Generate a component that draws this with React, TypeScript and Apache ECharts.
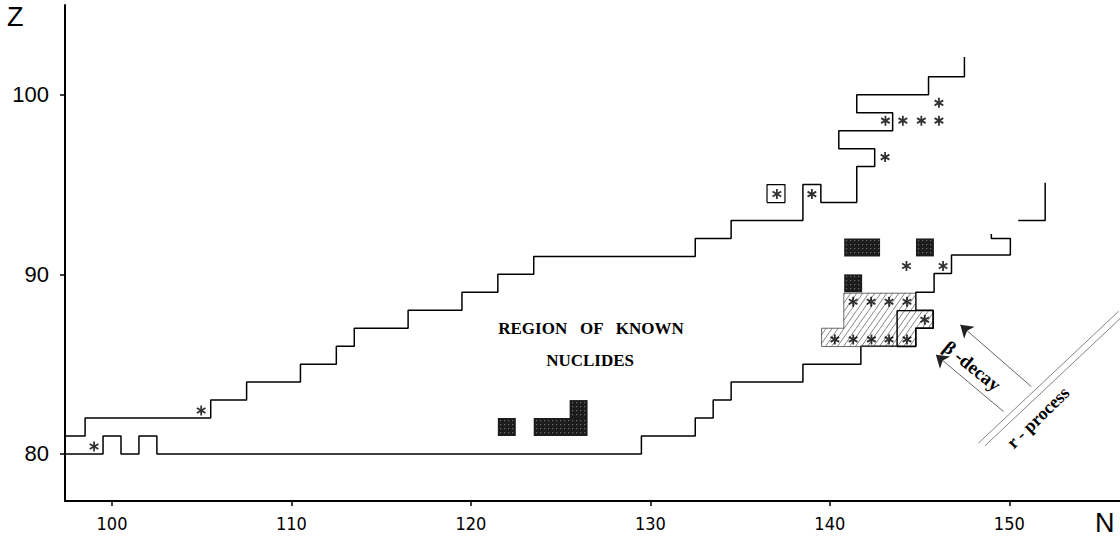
import React, { useEffect, useRef } from "react";
import * as echarts from "echarts";

// axis ranges and ticks
const nRange = [97.38, 156.17];
const zRange = [77.38, 105.0];
const nTicks = [100, 110, 120, 130, 140, 150];
const zTicks = [80, 90, 100];

// boundary of the region of known nuclides (N, Z)
const upperBoundary: [number, number][] = [
  [97.38, 81], [98.5, 81], [98.5, 82], [105.5, 82], [105.5, 83], [107.5, 83], [107.5, 84],
  [110.5, 84], [110.5, 85], [112.5, 85], [112.5, 86], [113.5, 86], [113.5, 87], [116.5, 87],
  [116.5, 88], [119.5, 88], [119.5, 89], [121.5, 89], [121.5, 90], [123.5, 90], [123.5, 91],
  [132.5, 91], [132.5, 92], [134.5, 92], [134.5, 93], [138.5, 93], [138.5, 95], [139.5, 95],
  [139.5, 94], [141.5, 94], [141.5, 96], [142.5, 96], [142.5, 97], [140.5, 97], [140.5, 98],
  [143.5, 98], [143.5, 99], [141.5, 99], [141.5, 100], [145.5, 100], [145.5, 101], [147.5, 101],
  [147.5, 102.1],
];
const lowerBoundary: [number, number][] = [
  [97.38, 80], [99.5, 80], [99.5, 81], [100.5, 81], [100.5, 80], [101.5, 80], [101.5, 81],
  [102.5, 81], [102.5, 80], [129.5, 80], [129.5, 81], [132.5, 81], [132.5, 82], [133.5, 82],
  [133.5, 83], [134.5, 83], [134.5, 84], [138.5, 84], [138.5, 85], [141.73, 85], [141.73, 86],
  [144.79, 86], [144.79, 87], [145.76, 87], [145.76, 88], [144.79, 88], [144.79, 89],
  [145.81, 89], [145.81, 90.05], [146.78, 90.05], [146.78, 91.08], [150.06, 91.08],
  [150.06, 92], [149.0, 92], [149.0, 92.25],
];
const extraBoundary: [number, number][] = [[150.5, 93], [152.0, 93], [152.0, 95.1]];
const boxedCell: [number, number][] = [[136.5, 94], [137.5, 94], [137.5, 95], [136.5, 95], [136.5, 94]];

// hatched regions [n1, n2, z1, z2]
const hatchRects: number[][] = [
  [140.78, 144.79, 87.98, 88.95],
  [140.78, 143.75, 87.0, 87.98],
  [139.54, 143.75, 85.98, 87.0],
  [143.75, 145.76, 87.0, 87.98],
  [143.75, 144.79, 85.98, 87.0],
];
const hatchOutlineA: [number, number][] = [
  [140.78, 88.95], [144.79, 88.95], [144.79, 87.98], [143.75, 87.98], [143.75, 85.98],
  [139.54, 85.98], [139.54, 87.0], [140.78, 87.0], [140.78, 88.95],
];
const hatchOutlineB: [number, number][] = [
  [143.75, 87.98], [145.76, 87.98], [145.76, 87.0], [144.79, 87.0], [144.79, 85.98],
  [143.75, 85.98], [143.75, 87.98],
];

// dark (filled) cells [n1, n2, z1, z2]
const darkBlocks: number[][] = [
  [121.5, 122.5, 81, 82],
  [123.5, 126.5, 81, 82],
  [125.5, 126.5, 82, 83],
  [140.8, 142.8, 91, 92],
  [144.8, 145.8, 91, 92],
  [140.8, 141.8, 89, 90],
];

// asterisks (N, Z)
const stars: [number, number][] = [
  [99.0, 80.42], [104.97, 82.42], [137.05, 94.48], [139.0, 94.47], [143.08, 96.53],
  [143.1, 98.56], [144.07, 98.56], [145.1, 98.56], [146.08, 98.56], [146.08, 99.55],
  [144.27, 90.47], [146.31, 90.47],
  [141.3, 88.48], [142.3, 88.48], [143.3, 88.48], [144.3, 88.48],
  [145.29, 87.47],
  [140.28, 86.38], [141.3, 86.38], [142.32, 86.38], [143.3, 86.38], [144.3, 86.38],
];

// r-process double line and beta-decay arrows
const rProcessLines: [number, number][][] = [
  [[148.28, 80.6], [156.1, 87.95]],
  [[148.65, 80.46], [156.17, 87.53]],
];
const betaArrows: [number, number][][] = [
  [[151.23, 83.75], [147.27, 87.19]],
  [[149.68, 82.36], [145.91, 85.52]],
];

// annotations: text, N, Z, rotation (rad)
const annotations: { text: string; n: number; z: number; rot: number; size: number }[] = [
  { text: "REGION   OF   KNOWN", n: 126.69, z: 87.0, rot: 0, size: 17 },
  { text: "NUCLIDES", n: 126.64, z: 85.18, rot: 0, size: 17 },
  { text: "\u03b2 -decay", n: 147.93, z: 84.9, rot: -0.68, size: 19 },
  { text: "r - process", n: 151.6, z: 82.03, rot: 0.77, size: 18 },
];

function asteriskPath(): string {
  const h = 5, w = 0.9;
  const angles = [90, 30, 150];
  let d = "";
  for (const a of angles) {
    const r = (a * Math.PI) / 180;
    const dx = Math.cos(r), dy = -Math.sin(r);
    const nx = -dy, ny = dx;
    const pts = [
      [h * dx + w * nx, h * dy + w * ny],
      [h * dx - w * nx, h * dy - w * ny],
      [-h * dx - w * nx, -h * dy - w * ny],
      [-h * dx + w * nx, -h * dy + w * ny],
    ];
    d += "M" + pts.map((p) => (p[0] + 6).toFixed(2) + " " + (p[1] + 6).toFixed(2)).join(" L") + " Z ";
  }
  return "path://" + d;
}

const lineSeries = (data: [number, number][], width: number, color = "#000") => ({
  type: "line",
  data,
  symbol: "none",
  silent: true,
  lineStyle: { color, width },
  z: 3,
  animation: false,
});

export default function App() {
  const ref = useRef<HTMLDivElement>(null);
  useEffect(() => {
    if (!ref.current) return;
    const chart = echarts.init(ref.current, null, { renderer: "svg" });
    const option: any = {
      animation: false,
      grid: { left: 65, right: 0, top: 5, bottom: 48, containLabel: false },
      xAxis: {
        type: "value",
        min: nRange[0],
        max: nRange[1],
        axisLine: { lineStyle: { color: "#000", width: 2 } },
        axisTick: { show: true, customValues: nTicks, length: 5, lineStyle: { color: "#000", width: 1.5 } },
        axisLabel: {
          customValues: nTicks,
          color: "#000",
          fontSize: 18,
          fontFamily: "Liberation Sans Narrow, DejaVu Sans Condensed, Liberation Sans",
          margin: 13,
        },
        splitLine: { show: false },
      },
      yAxis: {
        type: "value",
        min: zRange[0],
        max: zRange[1],
        axisLine: { show: true, lineStyle: { color: "#000", width: 2 } },
        axisTick: { show: true, customValues: zTicks, length: 5, lineStyle: { color: "#000", width: 1.5 } },
        axisLabel: {
          customValues: zTicks,
          color: "#000",
          fontSize: 22,
          fontFamily: "Liberation Sans, Arial, sans-serif",
          margin: 16,
        },
        splitLine: { show: false },
      },
      series: [
        {
          type: "custom",
          data: hatchRects,
          silent: true,
          z: 1,
          renderItem: (params: any, api: any) => {
            const p1 = api.coord([api.value(0), api.value(3)]);
            const p2 = api.coord([api.value(1), api.value(2)]);
            const x0 = p1[0], y0 = p1[1], x1 = p2[0], y1 = p2[1];
            const k = 0.7, s = 6;
            const children: any[] = [
              { type: "rect", shape: { x: x0, y: y0, width: x1 - x0, height: y1 - y0 }, style: { fill: "#fff" } },
            ];
            const cmin = Math.floor((x0 + k * y0) / s) * s;
            const cmax = x1 + k * y1;
            for (let c = cmin; c <= cmax; c += s) {
              const ya = Math.max(y0, (c - x1) / k);
              const yb = Math.min(y1, (c - x0) / k);
              if (yb > ya) {
                children.push({
                  type: "line",
                  shape: { x1: c - k * ya, y1: ya, x2: c - k * yb, y2: yb },
                  style: { stroke: "#666", lineWidth: 0.8 },
                });
              }
            }
            return { type: "group", children };
          },
        },
        {
          type: "custom",
          data: darkBlocks,
          silent: true,
          z: 2,
          renderItem: (params: any, api: any) => {
            const p1 = api.coord([api.value(0), api.value(3)]);
            const p2 = api.coord([api.value(1), api.value(2)]);
            const w = p2[0] - p1[0], h = p2[1] - p1[1];
            const children: any[] = [
              { type: "rect", shape: { x: p1[0], y: p1[1], width: w, height: h }, style: { fill: "#1c1c1c" } },
            ];
            // halftone texture
            const sx = Math.round(p1[0]) + 2, sy = Math.round(p1[1]) + 2;
            for (let yy = sy; yy < p2[1] - 2; yy += 4) {
              for (let xx = sx; xx < p2[0] - 2; xx += 4) {
                children.push({ type: "rect", shape: { x: xx, y: yy, width: 1.2, height: 1.2 }, style: { fill: "#6a6a6a" } });
              }
            }
            return { type: "group", children };
          },
        },
        lineSeries(upperBoundary, 1.5),
        lineSeries(lowerBoundary, 1.5),
        lineSeries(extraBoundary, 1.5),
        lineSeries(boxedCell, 1.2),
        lineSeries(hatchOutlineA, 0.8, "#444"),
        lineSeries(hatchOutlineB, 1.3),
        {
          type: "lines",
          coordinateSystem: "cartesian2d",
          silent: true,
          data: rProcessLines.map((c) => ({ coords: c })),
          symbol: ["none", "none"],
          lineStyle: { color: "#777", width: 0.9, opacity: 1 },
          z: 3,
        },
        {
          type: "lines",
          coordinateSystem: "cartesian2d",
          silent: true,
          data: betaArrows.map((c) => ({ coords: c })),
          symbol: ["none", "arrow"],
          symbolSize: [8, 12],
          lineStyle: { color: "#222", width: 0.7, opacity: 1 },
          z: 3,
        },
        {
          type: "scatter",
          data: stars,
          symbol: asteriskPath(),
          symbolSize: 10,
          symbolKeepAspect: true,
          itemStyle: { color: "#000" },
          silent: true,
          z: 4,
        },
      ],
    };
    chart.setOption(option);
    const graphics: any[] = annotations.map((a) => {
      const p = chart.convertToPixel({ xAxisIndex: 0, yAxisIndex: 0 }, [a.n, a.z]) as number[];
      return {
        type: "text",
        x: p[0],
        y: p[1],
        rotation: a.rot,
        style: {
          text: a.text,
          fontFamily: "Liberation Serif, Times New Roman, serif",
          fontWeight: "bold",
          fontSize: a.size,
          fill: "#000",
          align: "center",
          verticalAlign: "middle",
          textAlign: "center",
          textVerticalAlign: "middle",
        },
      };
    });
    graphics.push({
      type: "text",
      left: 7,
      top: 3,
      style: { text: "Z", fontFamily: "Liberation Sans, Arial, sans-serif", fontSize: 27, fill: "#000" },
    });
    graphics.push({
      type: "text",
      left: 1095,
      top: 509,
      style: { text: "N", fontFamily: "Liberation Sans Narrow, Liberation Sans, Arial, sans-serif", fontSize: 27, fill: "#000" },
    });
    chart.setOption({ graphic: graphics });
    return () => chart.dispose();
  }, []);
  return <div ref={ref} style={{ position: "fixed", left: 0, top: 0, width: 1120, height: 549, background: "#fff" }} />;
}
